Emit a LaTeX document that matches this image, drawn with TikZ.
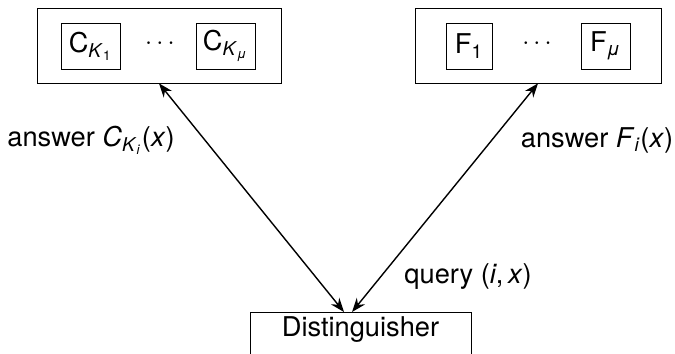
\documentclass[tikz,border=0pt]{standalone}
\usepackage{fontspec}
\setmainfont{TeX Gyre Heros}
\usepackage{tikz}
\usetikzlibrary{arrows.meta}
\tikzset{>/.tip={Stealth[length=8pt,width=6pt]},
  outerbox/.style={draw, minimum width=#1, minimum height=1.5cm, inner sep=0pt},
  innerbox/.style={draw, minimum width=#1, minimum height=0.92cm, inner sep=0pt}}
\newcommand{\ital}[1]{\textit{#1}}

\begin{document}
\begin{tikzpicture}[x=0.02cm,y=-0.02cm, every node/.style={font=\fontsize{15.5}{18}\selectfont}]
\useasboundingbox (0,0) rectangle (675,353);
% top boxes
\node[outerbox=4.88cm] (CBox) at (159,45.5) {};
\node[innerbox=1.18cm] (CK1) at (90.5,46) {C\textsubscript{\ital{K}\textsubscript{1}}};
\node[innerbox=1.18cm] (CKmu) at (225.5,46) {C\textsubscript{\ital{K}\textsubscript{\ital{μ}}}};
\node (Cdots) at (160,44) {$\cdots$};

\node[outerbox=4.92cm] (FBox) at (538,45.5) {};
\node[innerbox=0.92cm] (F1) at (469,46) {F\textsubscript{1}};
\node[innerbox=0.98cm] (Fmu) at (605.5,46) {F\textsubscript{\ital{μ}}};
\node (Fdots) at (537,44) {$\cdots$};

% bottom box
\node[draw, anchor=north, minimum width=4.42cm, inner ysep=0.1cm, text height=0.38cm, text depth=1cm] (Dist) at (360.5,312) {Distinguisher};
\coordinate (DL) at (344,312);
\coordinate (DR) at (352,312);

\path[<->, thick] (CBox.south) edge (DL);
\path[<->, thick] (FBox.south) edge (DR);

\node (ansC) at (91,140) {answer \ital{C}\textsubscript{\ital{K}\textsubscript{\ital{i}}}(\ital{x})};
\node (ansF) at (597,140) {answer \ital{F}\textsubscript{\ital{i}}(\ital{x})};
\node (query) at (468,277) {query (\ital{i},\,\ital{x})};
\end{tikzpicture}
\end{document}
